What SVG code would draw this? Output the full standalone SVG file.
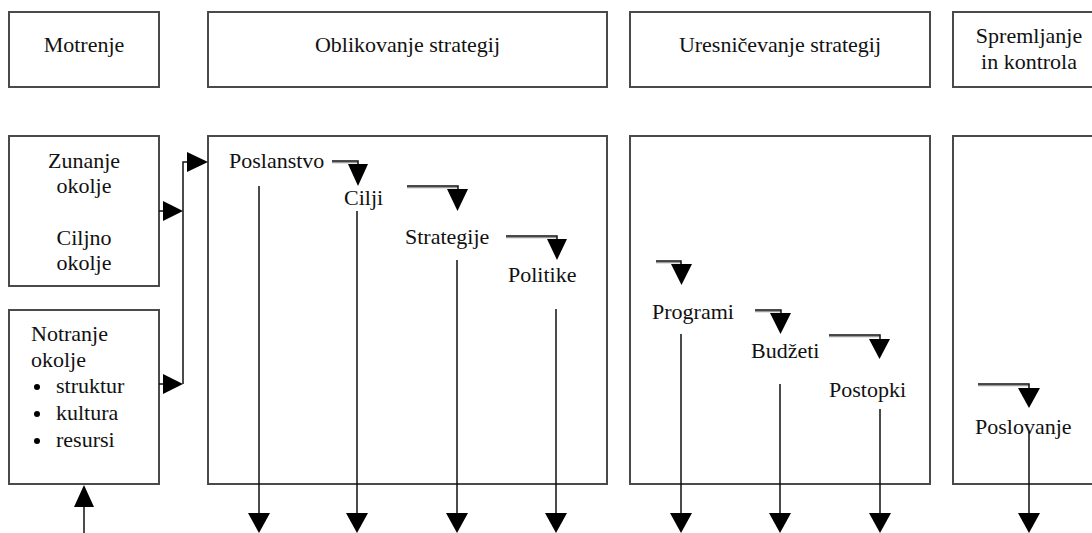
<svg xmlns="http://www.w3.org/2000/svg" width="1092" height="533" viewBox="0 0 1092 533">
<style>
.box{fill:#fff;stroke:#4a4a4a;stroke-width:2}
.t{font-size:22px;fill:#111}
.c{text-anchor:middle}
.ln{stroke:#111;stroke-width:1.5;fill:none}
.sh{stroke:#999;stroke-width:1.5;fill:none}
.ah{fill:#000}
</style>
<rect width="1092" height="533" fill="#fff"/>
<g font-family="'Liberation Serif', 'DejaVu Serif', serif">
<g id="motrenje"><rect class="box" x="9" y="12" width="150" height="75"/><text class="t c" x="84" y="52">Motrenje</text></g>
<g id="oblikovanje"><rect class="box" x="208" y="12" width="399" height="75"/><text class="t c" x="407.5" y="52">Oblikovanje strategij</text></g>
<g id="uresnicevanje"><rect class="box" x="630" y="12" width="300" height="75"/><text class="t c" x="780" y="52">Uresničevanje strategij</text></g>
<g id="spremljanje"><rect class="box" x="953" y="12" width="150" height="75"/><text class="t c" x="1029" y="43">Spremljanje</text><text class="t c" x="1029" y="69">in kontrola</text></g>
<g id="zunanje"><rect class="box" x="9" y="136" width="150" height="150"/><text class="t c" x="84" y="168">Zunanje</text><text class="t c" x="84" y="193">okolje</text><text class="t c" x="84" y="245">Ciljno</text><text class="t c" x="84" y="270">okolje</text></g>
<g id="notranje"><rect class="box" x="9" y="310" width="150" height="174"/><text class="t" x="31" y="341">Notranje</text><text class="t" x="31" y="367">okolje</text><circle cx="37" cy="387" r="3"/><text class="t" x="56" y="393">struktur</text><circle cx="37" cy="414" r="3"/><text class="t" x="56" y="420">kultura</text><circle cx="37" cy="441" r="3"/><text class="t" x="56" y="447">resursi</text></g>
<g id="oblikovanje-panel"><rect class="box" x="208" y="136" width="399" height="348"/>
<text class="t" x="229" y="168">Poslanstvo</text><text class="t" x="344" y="205">Cilji</text><text class="t" x="405" y="244">Strategije</text><text class="t" x="508" y="282">Politike</text></g>
<g id="uresnicevanje-panel"><rect class="box" x="630" y="136" width="300" height="348"/>
<text class="t" x="652" y="319">Programi</text><text class="t" x="751" y="358">Budžeti</text><text class="t" x="829" y="397">Postopki</text></g>
<g id="spremljanje-panel"><rect class="box" x="953" y="136" width="150" height="348"/><text class="t" x="975" y="434">Poslovanje</text></g>
</g>
<g id="connectors">
<path class="ln" d="M159 211H166M159 384H166M183 384V162H190"/>
<polygon class="ah" points="163,201 183,211 163,221"/>
<polygon class="ah" points="163,374 183,384 163,394"/>
<polygon class="ah" points="187,152 208,162 187,172"/>
<path class="ln" d="M84 533V500"/>
<polygon class="ah" points="84,485 94,507 74,507"/>
<path class="sh" d="M332 162.5H358M407 187.5H458M506 237.5H557M656 262.5H681M755 311.5H781M829 336.5H880M978 385.5H1029"/>
<path class="ln" d="M332 161H358V166M407 186H458V191M506 236H557V241M656 261H681V266M755 310H781V315M829 335H880V340M978 384H1029V390"/>
<polygon class="ah" points="348,164 368,164 358,186"/>
<polygon class="ah" points="447,189 468,189 457.5,211"/>
<polygon class="ah" points="547,239 567,239 557,260"/>
<polygon class="ah" points="671,264 692,264 681.5,285"/>
<polygon class="ah" points="770,313 791,313 780.5,334"/>
<polygon class="ah" points="869,339 890,339 879.5,359"/>
<polygon class="ah" points="1018,388 1040,388 1029,408"/>
<path class="ln" d="M259 186V515M357 211V515M457 260V515M556 309V515M681 334V515M780 384V515M880 409V515M1029 432V515"/>
<polygon class="ah" points="248,513 270,513 259,533"/>
<polygon class="ah" points="346,513 368,513 357,533"/>
<polygon class="ah" points="446,513 468,513 457,533"/>
<polygon class="ah" points="545,513 567,513 556,533"/>
<polygon class="ah" points="670,513 692,513 681,533"/>
<polygon class="ah" points="769,513 791,513 780,533"/>
<polygon class="ah" points="869,513 891,513 880,533"/>
<polygon class="ah" points="1018,513 1040,513 1029,533"/>
</g>
</svg>
